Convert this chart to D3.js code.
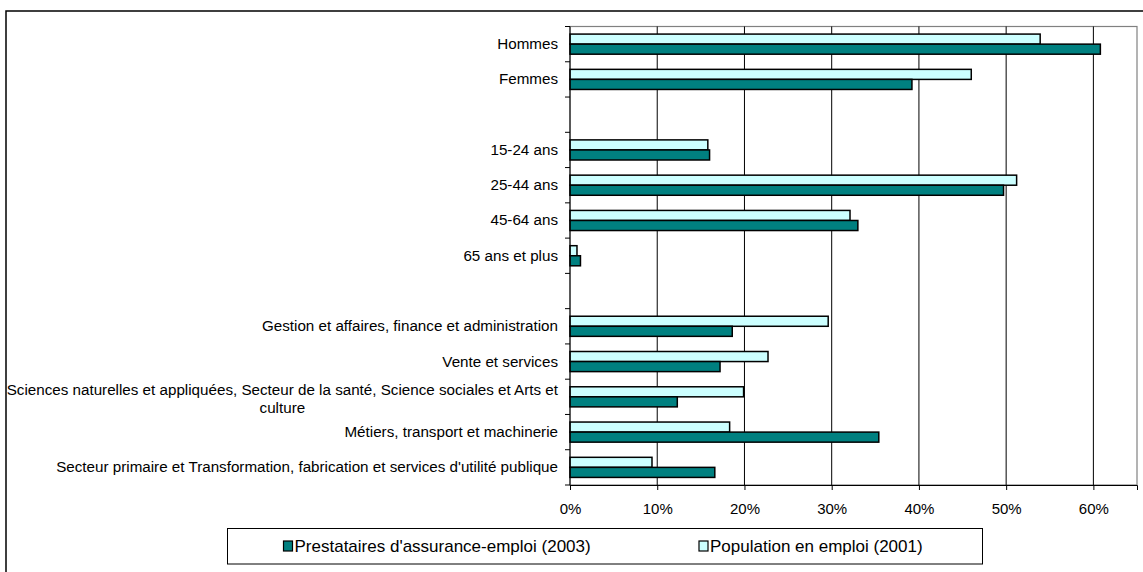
<!DOCTYPE html>
<html><head><meta charset="utf-8">
<script src="https://cdn.jsdelivr.net/npm/d3@7"></script>
<style>
body{margin:0;background:#fff;}
text{font-family:"Liberation Sans",Arial,sans-serif;fill:#000;}
</style></head>
<body>
<svg id="chart" width="1143" height="572"></svg>
<script>
const categories = [
  "Hommes","Femmes","",
  "15-24 ans","25-44 ans","45-64 ans","65 ans et plus","",
  "Gestion et affaires, finance et administration",
  "Vente et services",
  "Sciences naturelles et appliquées, Secteur de la santé, Science sociales et Arts et|culture",
  "Métiers, transport et machinerie",
  "Secteur primaire et Transformation, fabrication et services d'utilité publique"
];
const population2001 = [53.9, 46.0, null, 15.8, 51.2, 32.1, 0.8, null, 29.6, 22.7, 19.9, 18.3, 9.4];
const prestataires2003 = [60.8, 39.2, null, 16.0, 49.7, 33.0, 1.2, null, 18.6, 17.2, 12.3, 35.4, 16.6];
const seriesNames = ["Prestataires d'assurance-emploi (2003)", "Population en emploi (2001)"];
const xTicks = [0, 10, 20, 30, 40, 50, 60];
const xMax = 65;

const FS = "15px";
const FS_CAT = "15.2px";
const FS_LEG = "17px";
const svg = d3.select("#chart");
const plot = {left: 570, right: 1137, top: 26.5, bottom: 485};

// outer border
svg.append("rect").attr("x", 6).attr("y", 11).attr("width", 1160).attr("height", 620)
  .attr("fill", "none").attr("stroke", "#000").attr("stroke-width", 1.5);

const x = d3.scaleLinear().domain([0, xMax]).range([plot.left, plot.right]);
const idx = categories.map((d, i) => i);
const y = d3.scaleBand().domain(idx).range([plot.top, plot.bottom]).paddingInner(0.43).paddingOuter(0.215);
const step = y.step();
const inner = d3.scaleBand().domain(["pop", "pre"]).range([0, y.bandwidth()]);

// plot area border (gray)
svg.append("rect").attr("x", plot.left).attr("y", plot.top)
  .attr("width", plot.right - plot.left).attr("height", plot.bottom - plot.top)
  .attr("fill", "none").attr("stroke", "#808080").attr("stroke-width", 1.2);

// gridlines
svg.append("g").selectAll("line").data(xTicks.filter(d => d > 0)).join("line")
  .attr("x1", d => x(d)).attr("x2", d => x(d))
  .attr("y1", plot.top).attr("y2", plot.bottom)
  .attr("stroke", "#000").attr("stroke-width", 1);

// bars
const rows = idx.map(i => ({i, pop: population2001[i], pre: prestataires2003[i]}));
const g = svg.append("g");
g.selectAll("rect.pop").data(rows.filter(r => r.pop != null)).join("rect")
  .attr("x", x(0)).attr("y", r => y(r.i) + inner("pop"))
  .attr("width", r => x(r.pop) - x(0)).attr("height", inner.bandwidth())
  .attr("fill", "#CCFFFF").attr("stroke", "#000").attr("stroke-width", 1.5);
g.selectAll("rect.pre").data(rows.filter(r => r.pre != null)).join("rect")
  .attr("x", x(0)).attr("y", r => y(r.i) + inner("pre"))
  .attr("width", r => x(r.pre) - x(0)).attr("height", inner.bandwidth())
  .attr("fill", "#008080").attr("stroke", "#000").attr("stroke-width", 1.5);

// x axis
const xAxis = svg.append("g").attr("transform", `translate(0,${plot.bottom})`)
  .call(d3.axisBottom(x).tickValues(xTicks).tickFormat(d => d + "%").tickSizeOuter(0).tickSize(5).tickPadding(13));
xAxis.select(".domain").attr("stroke", "#000");
xAxis.selectAll("text").style("font-size", FS).attr("fill", "#000")
  .style("font-family", '"Liberation Sans",Arial,sans-serif');

// y axis line and ticks at category boundaries
svg.append("line").attr("x1", plot.left).attr("x2", plot.left)
  .attr("y1", plot.top).attr("y2", plot.bottom).attr("stroke", "#000").attr("stroke-width", 1);
const boundaries = d3.range(categories.length + 1).map(k => plot.top + k * step);
svg.append("g").selectAll("line").data(boundaries).join("line")
  .attr("x1", plot.left - 5).attr("x2", plot.left)
  .attr("y1", d => d).attr("y2", d => d).attr("stroke", "#000");

// category labels
const labelG = svg.append("g");
categories.forEach((c, i) => {
  if (!c) return;
  const cy = y(i) + y.bandwidth() / 2;
  const lines = c.split("|");
  if (lines.length === 1) {
    labelG.append("text").attr("x", 558).attr("y", cy + 5)
      .attr("text-anchor", "end").style("font-size", FS_CAT).text(c);
  } else {
    const t1 = labelG.append("text").attr("x", 558).attr("y", cy - 2)
      .attr("text-anchor", "end").style("font-size", FS_CAT).text(lines[0]);
    const w = t1.node().getComputedTextLength();
    labelG.append("text").attr("x", 558 - w / 2).attr("y", cy + 16)
      .attr("text-anchor", "middle").style("font-size", FS_CAT).text(lines[1]);
  }
});

// legend
const leg = svg.append("g");
leg.append("rect").attr("x", 227.5).attr("y", 528.5).attr("width", 755).attr("height", 35.5)
  .attr("fill", "#fff").attr("stroke", "#000").attr("stroke-width", 1);
const legItems = [
  {name: seriesNames[0], color: "#008080", x: 283.5},
  {name: seriesNames[1], color: "#CCFFFF", x: 699}
];
legItems.forEach(it => {
  leg.append("rect").attr("x", it.x).attr("y", 541).attr("width", 9).attr("height", 10)
    .attr("fill", it.color).attr("stroke", "#000").attr("stroke-width", 1.2);
  leg.append("text").attr("x", it.x + 11).attr("y", 552).style("font-size", FS_LEG).text(it.name);
});
</script>
</body></html>
